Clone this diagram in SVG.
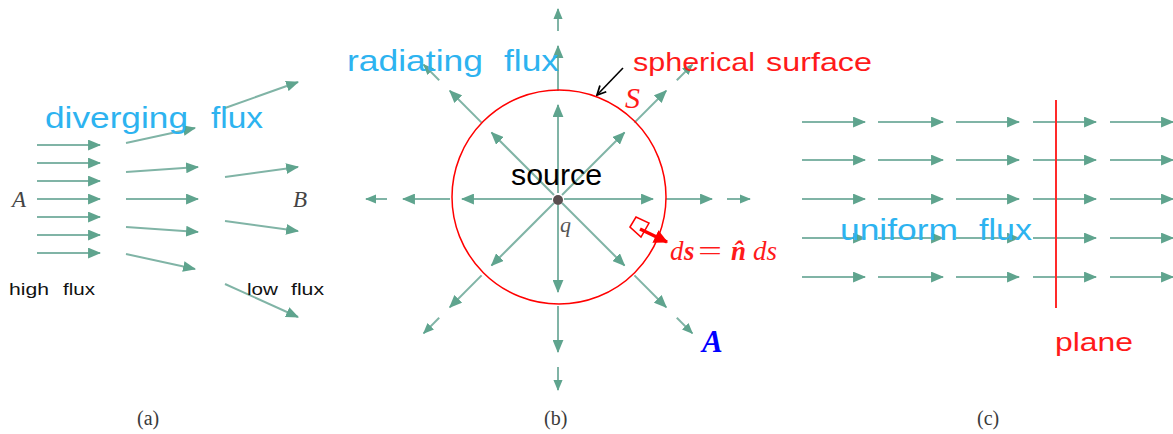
<svg xmlns="http://www.w3.org/2000/svg" width="1173" height="434" viewBox="0 0 1173 434">
<defs>
<marker id="ah" viewBox="0 0 12 10" refX="11" refY="5" markerWidth="13" markerHeight="11" markerUnits="userSpaceOnUse" orient="auto"><path d="M0,0 L12,5 L0,10 z" fill="#5fa48e"/></marker>
<marker id="ahs" viewBox="0 0 12 10" refX="11" refY="5" markerWidth="11" markerHeight="10" markerUnits="userSpaceOnUse" orient="auto"><path d="M0,0 L12,5 L0,10 z" fill="#5fa48e"/></marker>
<marker id="ahk" viewBox="0 0 10 10" refX="9" refY="5" markerWidth="11" markerHeight="11" markerUnits="userSpaceOnUse" orient="auto"><path d="M1,1 L9,5 L1,9" fill="none" stroke="#000" stroke-width="1.6"/></marker>
<marker id="ahr" viewBox="0 0 12 12" refX="11" refY="6" markerWidth="14" markerHeight="14" markerUnits="userSpaceOnUse" orient="auto"><path d="M0,0 L12,6 L0,12 z" fill="#ff0000"/></marker>
<style>
.f{stroke:#80b4a6;stroke-width:2;fill:none;marker-end:url(#ah)}
.fs{stroke:#80b4a6;stroke-width:2;fill:none;marker-end:url(#ahs)}
.sans{font-family:"Liberation Sans",Arial,sans-serif}
.blue{fill:#2db3f0}
.red{fill:#ff1a1a}
.serif{font-family:"Liberation Serif","Times New Roman",serif}
.cap{font-family:"Liberation Serif","Times New Roman",serif;font-size:20px;fill:#3a3a3a}
</style>
</defs>

<g id="connectors">
<g id="arrows-a">
<line class="f" x1="37" y1="145" x2="100" y2="145"/>
<line class="f" x1="37" y1="163" x2="100" y2="163"/>
<line class="f" x1="37" y1="181" x2="100" y2="181"/>
<line class="f" x1="37" y1="199" x2="100" y2="199"/>
<line class="f" x1="37" y1="217" x2="100" y2="217"/>
<line class="f" x1="37" y1="235" x2="100" y2="235"/>
<line class="f" x1="37" y1="253" x2="100" y2="253"/>
<line class="f" x1="126" y1="143" x2="195" y2="128"/>
<line class="f" x1="126" y1="172" x2="198" y2="167"/>
<line class="f" x1="126" y1="199" x2="198" y2="199"/>
<line class="f" x1="126" y1="227" x2="198" y2="232"/>
<line class="f" x1="126" y1="254" x2="195" y2="269"/>
<line class="f" x1="225" y1="108" x2="298" y2="82"/>
<line class="f" x1="225" y1="177" x2="298" y2="167"/>
<line class="f" x1="225" y1="221" x2="298" y2="231"/>
<line class="f" x1="225" y1="284" x2="298" y2="317"/>
</g>
<g id="arrows-b">
<line class="f" x1="558" y1="193" x2="558" y2="105"/>
<line class="f" x1="558" y1="91" x2="558" y2="46"/>
<line class="fs" x1="558" y1="31" x2="558" y2="9"/>
<line class="f" x1="558" y1="205" x2="558" y2="292"/>
<line class="f" x1="558" y1="306" x2="558" y2="352"/>
<line class="fs" x1="558" y1="367" x2="558" y2="390"/>
<line class="f" x1="552" y1="199" x2="462" y2="199"/>
<line class="f" x1="450" y1="199" x2="403" y2="199"/>
<line class="fs" x1="387" y1="199" x2="366" y2="199"/>
<line class="f" x1="564" y1="199" x2="653" y2="199"/>
<line class="f" x1="666" y1="199" x2="712" y2="199"/>
<line class="fs" x1="727" y1="199" x2="750" y2="199"/>
<line class="f" x1="554" y1="195" x2="491.5" y2="132.5"/>
<line class="f" x1="481.6" y1="122.6" x2="449.8" y2="90.8"/>
<line class="fs" x1="439.2" y1="80.2" x2="423.6" y2="64.6"/>
<line class="f" x1="562" y1="195" x2="624.5" y2="132.5"/>
<line class="f" x1="634.4" y1="122.6" x2="666.2" y2="90.8"/>
<line class="fs" x1="676.8" y1="80.2" x2="692.4" y2="64.6"/>
<line class="f" x1="554" y1="203" x2="491.5" y2="265.5"/>
<line class="f" x1="481.6" y1="275.4" x2="449.8" y2="307.2"/>
<line class="fs" x1="439.2" y1="317.8" x2="423.6" y2="333.4"/>
<line class="f" x1="562" y1="203" x2="624.5" y2="265.5"/>
<line class="f" x1="634.4" y1="275.4" x2="666.2" y2="307.2"/>
<line class="fs" x1="676.8" y1="317.8" x2="692.4" y2="333.4"/>
</g>
<g id="arrows-c">
<line class="f" x1="802" y1="122" x2="865" y2="122"/><line class="f" x1="878" y1="122" x2="943" y2="122"/><line class="f" x1="956" y1="122" x2="1019" y2="122"/><line class="f" x1="1033" y1="122" x2="1096" y2="122"/><line class="f" x1="1110" y1="122" x2="1173" y2="122"/>
<line class="f" x1="802" y1="160" x2="865" y2="160"/><line class="f" x1="878" y1="160" x2="943" y2="160"/><line class="f" x1="956" y1="160" x2="1019" y2="160"/><line class="f" x1="1033" y1="160" x2="1096" y2="160"/><line class="f" x1="1110" y1="160" x2="1173" y2="160"/>
<line class="f" x1="802" y1="199" x2="865" y2="199"/><line class="f" x1="878" y1="199" x2="943" y2="199"/><line class="f" x1="956" y1="199" x2="1019" y2="199"/><line class="f" x1="1033" y1="199" x2="1096" y2="199"/><line class="f" x1="1110" y1="199" x2="1173" y2="199"/>
<line class="f" x1="802" y1="238" x2="865" y2="238"/><line class="f" x1="878" y1="238" x2="943" y2="238"/><line class="f" x1="956" y1="238" x2="1019" y2="238"/><line class="f" x1="1033" y1="238" x2="1096" y2="238"/><line class="f" x1="1110" y1="238" x2="1173" y2="238"/>
<line class="f" x1="802" y1="277" x2="865" y2="277"/><line class="f" x1="878" y1="277" x2="943" y2="277"/><line class="f" x1="956" y1="277" x2="1019" y2="277"/><line class="f" x1="1033" y1="277" x2="1096" y2="277"/><line class="f" x1="1110" y1="277" x2="1173" y2="277"/>
</g>
<line id="pointer" x1="623" y1="68" x2="597" y2="95" stroke="#000" stroke-width="1.6" marker-end="url(#ahk)"/>
<line id="ds-vector" x1="640" y1="229" x2="667" y2="242" stroke="#ff0000" stroke-width="3.5" marker-end="url(#ahr)"/>
</g>

<g id="sphere">
<circle cx="559" cy="197" r="107" fill="none" stroke="#ff0000" stroke-width="1.5"/>
</g>
<g id="source-node">
<circle cx="558" cy="200" r="5" fill="#5a4f50"/>
<text class="sans" x="511" y="184.5" font-size="30" textLength="91" lengthAdjust="spacingAndGlyphs" fill="#000">source</text>
<text class="serif" x="560" y="232" font-size="22" font-style="italic" fill="#555">q</text>
</g>
<g id="surface-element">
<polygon points="630,227 636,217 649,223 641,237" fill="none" stroke="#ff0000" stroke-width="1.5"/>
</g>
<g id="plane">
<line x1="1056" y1="100" x2="1056" y2="308" stroke="#ff2a2a" stroke-width="2"/>
<text class="sans red" x="1055" y="350.5" font-size="26" textLength="78" lengthAdjust="spacingAndGlyphs">plane</text>
</g>

<g id="labels">
<text class="sans blue" y="128" font-size="30"><tspan x="45" textLength="143" lengthAdjust="spacingAndGlyphs">diverging</tspan><tspan x="211" textLength="52" lengthAdjust="spacingAndGlyphs">flux</tspan></text>
<text class="sans" y="295" font-size="17" fill="#111"><tspan x="9" textLength="40" lengthAdjust="spacingAndGlyphs">high</tspan><tspan x="63" textLength="32" lengthAdjust="spacingAndGlyphs">flux</tspan></text>
<text class="sans" y="295" font-size="17" fill="#111"><tspan x="247" textLength="31" lengthAdjust="spacingAndGlyphs">low</tspan><tspan x="291" textLength="33" lengthAdjust="spacingAndGlyphs">flux</tspan></text>
<text class="serif" x="12" y="207" font-size="23" font-style="italic" fill="#444">A</text>
<text class="serif" x="293" y="207" font-size="23" font-style="italic" fill="#444">B</text>
<text class="sans blue" y="71" font-size="30"><tspan x="347" textLength="136" lengthAdjust="spacingAndGlyphs">radiating</tspan><tspan x="504" textLength="55" lengthAdjust="spacingAndGlyphs">flux</tspan></text>
<text class="sans red" y="71" font-size="26"><tspan x="633" textLength="122" lengthAdjust="spacingAndGlyphs">spherical</tspan><tspan x="766" textLength="106" lengthAdjust="spacingAndGlyphs">surface</tspan></text>
<text class="serif red" x="625" y="108" font-size="30" font-style="italic">S</text>
<text class="serif red" y="260" font-size="27" font-style="italic"><tspan x="670">d</tspan><tspan x="684" font-weight="bold">s</tspan><tspan x="698" font-style="normal" textLength="24" lengthAdjust="spacingAndGlyphs">=</tspan><tspan x="731" font-weight="bold">n̂</tspan><tspan x="753">ds</tspan></text>
<text class="serif" x="702" y="351.5" font-size="31" font-style="italic" font-weight="bold" fill="#0000ff">A</text>
<text class="sans blue" y="239.5" font-size="29"><tspan x="840" textLength="118" lengthAdjust="spacingAndGlyphs">uniform</tspan><tspan x="979" textLength="53" lengthAdjust="spacingAndGlyphs">flux</tspan></text>
<text class="cap" x="137" y="425">(a)</text>
<text class="cap" x="544" y="425">(b)</text>
<text class="cap" x="977" y="425">(c)</text>
</g>
</svg>
